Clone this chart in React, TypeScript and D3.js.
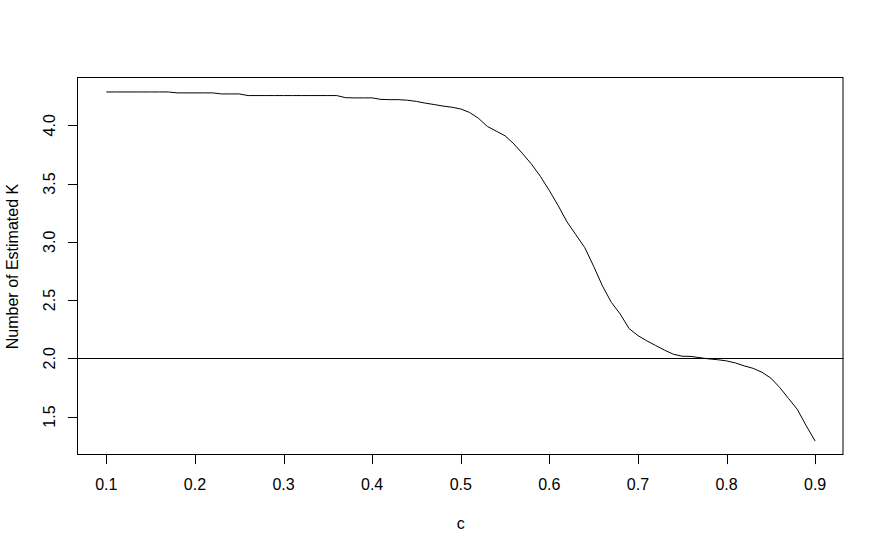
import React from "react";
import * as d3 from "d3";

const cValues: number[] = [
  0.10, 0.11, 0.12, 0.13, 0.14, 0.15, 0.16, 0.17, 0.18, 0.19,
  0.20, 0.21, 0.22, 0.23, 0.24, 0.25, 0.26, 0.27, 0.28, 0.29,
  0.30, 0.31, 0.32, 0.33, 0.34, 0.35, 0.36, 0.37, 0.38, 0.39,
  0.40, 0.41, 0.42, 0.43, 0.44, 0.45, 0.46, 0.47, 0.48, 0.49,
  0.50, 0.51, 0.52, 0.53, 0.54, 0.55, 0.56, 0.57, 0.58, 0.59,
  0.60, 0.61, 0.62, 0.63, 0.64, 0.65, 0.66, 0.67, 0.68, 0.69,
  0.70, 0.71, 0.72, 0.73, 0.74, 0.75, 0.76, 0.77, 0.78, 0.79,
  0.80, 0.81, 0.82, 0.83, 0.84, 0.85, 0.86, 0.87, 0.88, 0.89,
  0.90,
];

const estimatedK: number[] = [
  4.286, 4.286, 4.286, 4.286, 4.286, 4.286, 4.286, 4.286, 4.278, 4.278,
  4.278, 4.278, 4.278, 4.269, 4.269, 4.269, 4.255, 4.255, 4.255, 4.255,
  4.255, 4.255, 4.255, 4.255, 4.255, 4.255, 4.255, 4.237, 4.235, 4.235,
  4.235, 4.222, 4.220, 4.220, 4.215, 4.205, 4.190, 4.178, 4.165, 4.155,
  4.140, 4.110, 4.060, 3.990, 3.950, 3.910, 3.840, 3.755, 3.665, 3.560,
  3.440, 3.310, 3.170, 3.060, 2.950, 2.790, 2.620, 2.480, 2.380, 2.255,
  2.195, 2.150, 2.110, 2.070, 2.035, 2.018, 2.016, 2.005, 1.995, 1.988,
  1.978, 1.960, 1.935, 1.914, 1.880, 1.830, 1.750, 1.655, 1.560, 1.420,
  1.290,
];

const xTicks: number[] = [0.1, 0.2, 0.3, 0.4, 0.5, 0.6, 0.7, 0.8, 0.9];
const yTicks: number[] = [1.5, 2.0, 2.5, 3.0, 3.5, 4.0];
const refLineY = 2.0;
const xLabel = "c";
const yLabel = "Number of Estimated K";

const W = 884;
const H = 553;
const box = { left: 78, right: 843.5, top: 78, bottom: 455 };
const FONT = "'Liberation Sans', Arial, sans-serif";
const FS = 16;

function pad(ext: [number, number]): [number, number] {
  const d = ext[1] - ext[0];
  return [ext[0] - 0.04 * d, ext[1] + 0.04 * d];
}

export default function App() {
  const xExt = d3.extent(cValues) as [number, number];
  const yExt = d3.extent(estimatedK) as [number, number];
  const x = d3.scaleLinear().domain(pad(xExt)).range([box.left, box.right]);
  const y = d3.scaleLinear().domain(pad(yExt)).range([box.bottom, box.top]);

  const line = d3
    .line<number>()
    .x((_, i) => x(cValues[i]))
    .y((v) => y(v));

  const tickLen = 9.6;
  const cx = (box.left + box.right) / 2;
  const cy = (box.top + box.bottom) / 2;

  return (
    <svg
      width={W}
      height={H}
      style={{ display: "block", position: "absolute", left: 0, top: 0, background: "#fff" }}
    >
      <rect x={0} y={0} width={W} height={H} fill="#fff" />
      <path d={line(estimatedK) || ""} fill="none" stroke="#000" strokeWidth={1} />
      <line
        x1={box.left}
        x2={box.right}
        y1={Math.round(y(refLineY)) + 0.5}
        y2={Math.round(y(refLineY)) + 0.5}
        stroke="#000"
        strokeWidth={1}
      />
      <rect
        x={box.left - 0.5}
        y={box.top - 0.5}
        width={box.right - box.left}
        height={box.bottom - box.top}
        fill="none"
        stroke="#000"
        strokeWidth={1}
      />
      {xTicks.map((t) => {
        const px = Math.round(x(t)) + 0.5;
        return (
          <g key={"x" + t}>
            <line x1={px} x2={px} y1={box.bottom - 0.5} y2={box.bottom - 0.5 + tickLen} stroke="#000" />
            <text x={x(t)} y={490} textAnchor="middle" fontFamily={FONT} fontSize={FS} fill="#000">
              {t.toFixed(1)}
            </text>
          </g>
        );
      })}
      {yTicks.map((t) => {
        const py = Math.round(y(t)) + 0.5;
        return (
          <g key={"y" + t}>
            <line x1={box.left - 0.5 - tickLen} x2={box.left - 0.5} y1={py} y2={py} stroke="#000" />
            <text
              transform={`translate(55,${y(t)}) rotate(-90)`}
              textAnchor="middle"
              fontFamily={FONT}
              fontSize={FS}
              fill="#000"
            >
              {t.toFixed(1)}
            </text>
          </g>
        );
      })}
      <text x={cx} y={529} textAnchor="middle" fontFamily={FONT} fontSize={FS} fill="#000">
        {xLabel}
      </text>
      <text
        transform={`translate(18,${cy}) rotate(-90)`}
        textAnchor="middle"
        fontFamily={FONT}
        fontSize={FS}
        fill="#000"
      >
        {yLabel}
      </text>
    </svg>
  );
}
